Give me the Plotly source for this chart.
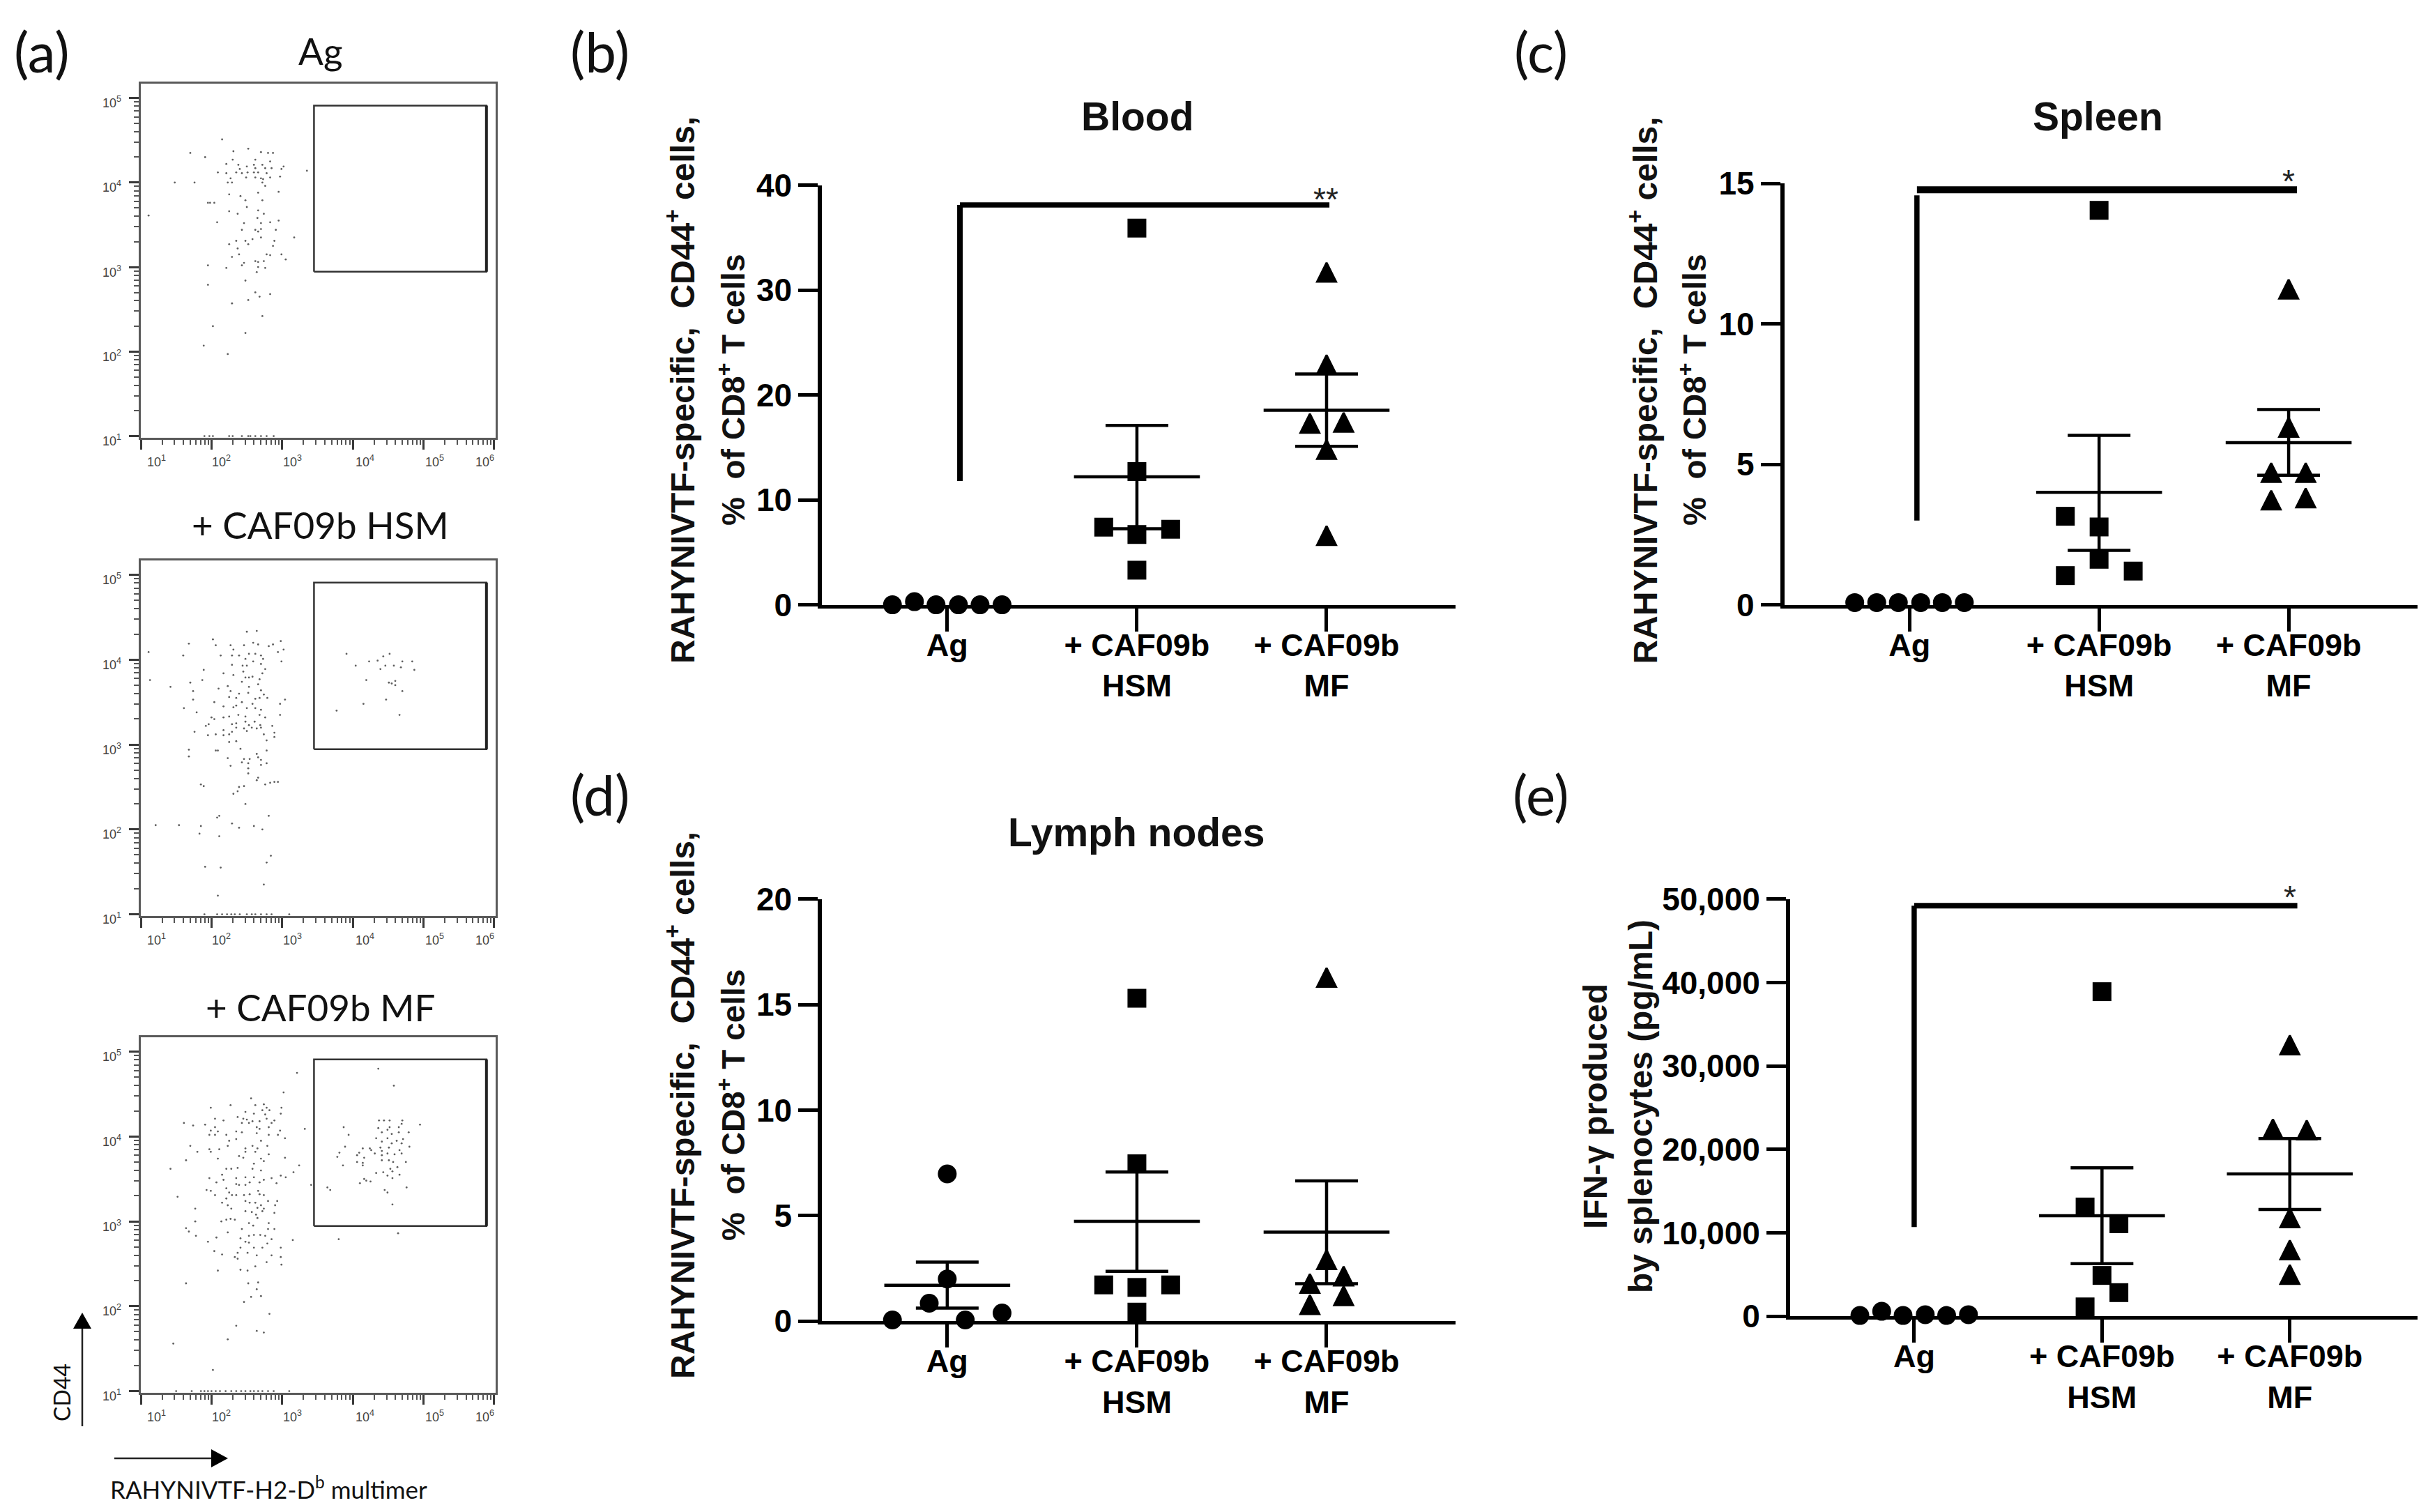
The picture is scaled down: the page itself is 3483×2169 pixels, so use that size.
import plotly.graph_objects as go

W, H = 3483, 2169

# ---------- (a) flow cytometry events: (log10 multimer, log10 CD44) ----------
ag_events = [(2.15,4.51),(1.70,4.35),(1.91,4.30),(2.31,4.37),(2.52,4.40),(2.70,4.36),(2.80,4.35),(2.87,4.35),(2.30,4.27),(2.62,4.27),(2.83,4.25),(2.21,4.22),(2.38,4.21),(2.50,4.19),(2.60,4.21),(2.72,4.21),(3.02,4.19),(2.99,4.16),(2.76,4.17),(2.85,4.17),(2.40,4.16),(2.62,4.17),(2.09,4.12),(2.21,4.11),(2.35,4.12),(2.43,4.11),(2.51,4.12),(2.60,4.12),(2.66,4.12),(2.78,4.11),(3.35,4.14),(2.27,4.05),(2.49,4.06),(2.62,4.06),(2.70,4.05),(2.73,4.04),(2.83,4.06),(2.97,4.07),(1.48,4.00),(1.76,4.00),(2.23,4.00),(2.29,4.00),(2.72,4.00),(2.76,3.96),(2.95,3.89),(2.25,3.86),(2.41,3.84),(2.66,3.88),(2.48,3.79),(2.72,3.79),(1.95,3.76),(1.98,3.76),(2.04,3.76),(2.50,3.71),(2.25,3.66),(2.66,3.67),(2.37,3.63),(2.74,3.63),(1.11,3.61),(2.65,3.58),(2.08,3.53),(2.46,3.52),(2.70,3.52),(2.83,3.53),(2.95,3.55),(2.43,3.44),(2.62,3.44),(2.70,3.45),(2.91,3.44),(2.66,3.42),(3.17,3.35),(2.58,3.33),(2.70,3.35),(2.35,3.31),(2.48,3.31),(2.89,3.31),(2.25,3.27),(2.52,3.27),(2.87,3.25),(2.37,3.22),(2.39,3.15),(2.78,3.15),(2.83,3.14),(2.99,3.15),(2.29,3.12),(3.05,3.09),(1.95,3.02),(2.21,2.99),(2.43,3.02),(2.46,3.05),(2.62,3.07),(2.66,3.06),(2.74,3.07),(2.66,3.00),(2.76,2.99),(2.64,2.94),(2.48,2.84),(1.95,2.79),(2.62,2.70),(2.83,2.68),(2.68,2.65),(2.52,2.61),(2.29,2.57),(2.72,2.42),(2.02,2.30),(2.48,2.22),(1.89,2.07),(2.23,1.97),(1.90,1.0),(1.97,1.0),(2.02,1.0),(2.25,1.0),(2.30,1.0),(2.43,1.0),(2.52,1.0),(2.55,1.0),(2.62,1.0),(2.70,1.0),(2.78,1.0),(2.88,1.0)]

hsm_events = [(2.50,4.33),(2.64,4.34),(2.02,4.24),(2.59,4.20),(2.06,4.17),(1.68,4.19),(2.27,4.17),(2.46,4.17),(2.66,4.18),(2.87,4.18),(2.98,4.22),(2.81,4.16),(2.31,4.12),(3.02,4.12),(2.94,4.09),(1.11,4.09),(1.60,4.05),(2.13,4.05),(2.29,4.05),(2.39,4.05),(2.53,4.07),(2.62,4.07),(2.70,4.05),(2.48,4.01),(2.73,4.01),(2.59,3.98),(2.99,3.98),(2.70,3.95),(2.29,3.94),(2.44,3.93),(2.50,3.93),(1.89,3.88),(2.76,3.89),(2.45,3.86),(2.17,3.84),(2.31,3.82),(2.72,3.84),(2.53,3.79),(2.58,3.80),(2.48,3.79),(2.68,3.77),(2.43,3.74),(1.87,3.76),(1.70,3.73),(1.13,3.76),(2.23,3.69),(2.66,3.71),(1.42,3.68),(2.10,3.66),(2.53,3.68),(1.74,3.63),(2.27,3.63),(2.70,3.64),(2.39,3.60),(2.52,3.61),(2.74,3.59),(2.25,3.56),(2.35,3.55),(2.79,3.55),(1.74,3.53),(2.62,3.54),(2.68,3.55),(3.04,3.53),(2.04,3.50),(2.43,3.50),(2.97,3.48),(2.58,3.48),(2.17,3.45),(2.35,3.46),(2.31,3.44),(1.61,3.43),(2.50,3.43),(2.62,3.43),(2.70,3.41),(1.79,3.38),(2.68,3.35),(2.97,3.35),(2.38,3.35),(2.25,3.33),(2.48,3.33),(2.76,3.32),(2.00,3.32),(2.04,3.30),(2.17,3.32),(2.29,3.24),(2.35,3.25),(2.48,3.27),(2.53,3.23),(2.61,3.27),(2.69,3.23),(2.86,3.22),(1.92,3.22),(1.96,3.24),(2.35,3.20),(2.46,3.19),(2.57,3.20),(2.64,3.19),(2.70,3.20),(1.76,3.15),(2.17,3.17),(2.29,3.15),(2.50,3.16),(2.74,3.12),(2.06,3.12),(1.95,3.11),(2.17,3.11),(2.25,3.12),(2.89,3.14),(2.89,3.09),(2.25,3.03),(2.35,3.04),(2.78,3.05),(2.06,2.93),(2.09,2.93),(1.68,2.94),(2.41,2.95),(2.78,2.93),(2.64,2.89),(1.68,2.86),(2.23,2.84),(2.46,2.83),(2.54,2.83),(2.66,2.85),(2.70,2.82),(2.43,2.79),(2.52,2.78),(2.78,2.78),(2.70,2.76),(2.27,2.75),(2.52,2.72),(2.52,2.66),(2.66,2.61),(2.64,2.58),(1.85,2.53),(1.89,2.51),(2.76,2.53),(2.83,2.55),(2.89,2.56),(2.94,2.56),(2.39,2.50),(2.46,2.51),(2.37,2.45),(2.31,2.42),(2.48,2.30),(2.81,2.16),(2.08,2.14),(2.11,2.16),(1.21,2.05),(1.54,2.05),(1.85,2.04),(2.29,2.07),(2.39,2.02),(2.60,2.04),(2.72,2.00),(1.83,1.95),(2.11,1.92),(2.84,1.69),(2.78,1.61),(1.91,1.56),(2.13,1.55),(2.74,1.35),(2.09,1.22),(3.91,4.07),(4.52,4.07),(4.43,4.04),(4.35,3.99),(4.23,3.98),(4.70,3.98),(4.84,3.98),(4.04,3.93),(4.46,3.93),(4.58,3.93),(4.68,3.91),(4.39,3.89),(4.87,3.88),(4.19,3.76),(4.51,3.73),(4.55,3.72),(4.60,3.75),(4.60,3.70),(4.70,3.63),(4.47,3.53),(4.15,3.48),(3.77,3.40),(4.66,3.35),(1.90,1.0),(2.08,1.0),(2.15,1.0),(2.22,1.0),(2.28,1.0),(2.33,1.0),(2.40,1.0),(2.50,1.0),(2.57,1.0),(2.62,1.0),(2.70,1.0),(2.78,1.0),(2.85,1.0),(3.10,1.0)]

mf_events = [(3.21,4.75),(4.36,4.80),(4.58,4.60),(3.02,4.52),(2.56,4.45),(2.27,4.37),(1.99,4.34),(2.62,4.37),(2.74,4.38),(2.99,4.34),(2.78,4.34),(2.72,4.31),(2.82,4.31),(2.48,4.29),(2.60,4.27),(2.98,4.27),(2.76,4.26),(2.37,4.23),(2.05,4.21),(2.17,4.19),(2.45,4.21),(2.50,4.20),(2.58,4.18),(2.68,4.18),(2.78,4.21),(2.89,4.19),(1.61,4.16),(1.91,4.14),(2.43,4.16),(2.53,4.16),(2.85,4.16),(1.74,4.13),(2.05,4.11),(2.64,4.11),(2.68,4.09),(2.81,4.11),(3.32,4.09),(1.99,4.07),(2.09,4.06),(2.35,4.06),(2.43,4.05),(2.97,4.07),(1.97,4.02),(2.05,4.02),(2.21,4.02),(2.64,4.04),(2.81,4.02),(2.94,4.02),(3.04,3.98),(2.35,3.97),(2.25,3.95),(2.70,3.95),(1.70,3.89),(2.23,3.89),(2.48,3.86),(2.58,3.89),(2.65,3.86),(2.79,3.89),(1.97,3.85),(2.11,3.85),(1.80,3.82),(2.48,3.82),(2.62,3.82),(1.99,3.82),(2.81,3.79),(2.39,3.77),(2.45,3.75),(2.70,3.74),(2.09,3.74),(1.64,3.72),(3.04,3.75),(2.74,3.71),(2.60,3.68),(3.24,3.66),(1.42,3.62),(2.37,3.63),(2.21,3.62),(2.28,3.62),(2.70,3.60),(2.58,3.62),(3.16,3.58),(2.15,3.55),(2.60,3.52),(2.48,3.52),(2.85,3.51),(2.98,3.54),(3.05,3.52),(1.97,3.51),(2.17,3.49),(2.35,3.51),(2.74,3.49),(2.07,3.46),(2.54,3.46),(2.92,3.45),(2.68,3.46),(2.35,3.44),(2.48,3.43),(2.39,3.43),(3.41,3.43),(2.21,3.39),(1.93,3.37),(1.99,3.36),(2.66,3.36),(2.25,3.34),(3.64,3.40),(3.68,3.37),(2.05,3.31),(2.29,3.31),(2.35,3.31),(2.46,3.31),(2.54,3.32),(2.68,3.32),(2.74,3.31),(1.52,3.29),(2.21,3.27),(2.48,3.24),(2.15,3.22),(2.54,3.22),(2.62,3.22),(2.93,3.24),(2.80,3.24),(2.23,3.19),(2.70,3.19),(2.90,3.19),(1.77,3.15),(2.28,3.15),(2.65,3.16),(2.74,3.15),(2.48,3.12),(2.57,3.11),(2.72,3.12),(2.89,3.10),(2.63,3.08),(2.65,3.04),(2.21,3.02),(2.27,3.03),(2.33,3.02),(1.77,3.00),(2.14,3.00),(2.81,2.98),(2.53,2.98),(2.59,2.95),(1.64,2.92),(2.43,2.91),(2.80,2.91),(2.89,2.91),(1.68,2.88),(2.23,2.87),(1.78,2.83),(2.07,2.81),(2.53,2.83),(2.60,2.84),(2.69,2.84),(2.76,2.83),(2.41,2.80),(2.85,2.79),(2.48,2.76),(2.53,2.75),(1.95,2.76),(3.15,2.78),(3.80,2.79),(4.64,2.86),(2.79,2.74),(2.41,2.69),(2.60,2.69),(2.72,2.69),(2.98,2.69),(2.04,2.65),(2.37,2.63),(2.15,2.61),(2.51,2.63),(2.33,2.58),(2.64,2.60),(2.85,2.60),(2.98,2.58),(2.37,2.56),(2.78,2.52),(2.99,2.49),(2.62,2.47),(2.41,2.43),(2.51,2.42),(2.09,2.42),(1.64,2.27),(2.52,2.27),(2.66,2.28),(2.64,2.20),(2.70,2.12),(2.56,2.11),(2.46,2.05),(2.82,1.91),(2.35,1.77),(2.64,1.71),(2.74,1.69),(2.23,1.61),(1.46,1.56),(2.02,1.25),(4.70,4.19),(4.37,4.19),(4.44,4.19),(4.52,4.19),(4.95,4.14),(4.69,4.15),(3.87,4.11),(4.36,4.10),(4.49,4.08),(4.52,4.11),(4.65,4.11),(4.41,4.05),(4.79,4.05),(4.55,4.03),(4.65,4.05),(3.94,4.02),(4.33,3.98),(4.49,3.98),(4.71,3.97),(4.41,3.94),(4.62,3.95),(4.69,3.92),(4.55,3.92),(3.89,3.88),(4.14,3.86),(4.24,3.86),(4.39,3.87),(4.51,3.87),(4.80,3.88),(4.26,3.84),(4.41,3.83),(4.66,3.84),(4.09,3.81),(4.31,3.80),(4.49,3.80),(4.59,3.79),(3.81,3.81),(4.06,3.78),(4.41,3.78),(4.69,3.80),(3.78,3.76),(4.16,3.75),(4.41,3.72),(4.51,3.72),(4.06,3.70),(4.14,3.69),(4.57,3.70),(4.75,3.70),(3.86,3.66),(4.14,3.66),(4.53,3.62),(4.63,3.64),(4.56,3.59),(4.33,3.57),(4.43,3.58),(4.66,3.55),(4.49,3.54),(4.56,3.51),(4.16,3.50),(4.19,3.48),(4.25,3.47),(4.10,3.45),(4.76,3.40),(4.45,3.37),(4.49,3.34),(4.56,3.20),(1.50,1.0),(1.72,1.0),(1.85,1.0),(1.90,1.0),(1.95,1.0),(2.00,1.0),(2.06,1.0),(2.12,1.0),(2.20,1.0),(2.28,1.0),(2.35,1.0),(2.42,1.0),(2.48,1.0),(2.55,1.0),(2.60,1.0),(2.66,1.0),(2.72,1.0),(2.80,1.0),(2.88,1.0),(3.10,1.0)]

gate_multimer_log = [3.45, 5.89]
gate_cd44_log = [2.945, 4.91]
facs_titles = ["Ag", "+ CAF09b HSM", "+ CAF09b MF"]
facs_decades_x = [1, 2, 3, 4, 5, 6]
facs_decades_y = [1, 2, 3, 4, 5]
facs_label_x_shift = [22, 14, 15, 17, 16, -13]

# ---------- (b)-(e) dot plots ----------
categories = ["Ag", "+ CAF09b<br>HSM", "+ CAF09b<br>MF"]
six_offsets = [-0.289, -0.173, -0.059, 0.059, 0.173, 0.289]

blood_ag = [0.0, 0.3, 0.0, 0.0, 0.0, 0.0]
blood_hsm = [35.9, 12.7, 7.4, 7.2, 6.7, 3.3]
blood_hsm_off = [0, 0, -0.175, 0.178, 0, 0]
blood_mf = [31.6, 22.8, 17.2, 17.3, 14.7, 6.5]
blood_mf_off = [0, 0, -0.088, 0.09, 0, 0]
blood_mean = [None, 12.2, 18.55]
blood_upper = [None, 17.1, 22.0]
blood_lower = [None, 7.25, 15.1]
blood_ticks = [0, 10, 20, 30, 40]

spleen_ag = [0.08, 0.08, 0.08, 0.08, 0.08, 0.08]
spleen_hsm = [14.04, 3.15, 2.77, 1.62, 1.2, 1.04]
spleen_hsm_off = [0, -0.178, 0, 0, 0.18, -0.178]
spleen_mf = [11.2, 6.28, 4.67, 4.67, 3.69, 3.77]
spleen_mf_off = [0, 0, -0.092, 0.09, -0.092, 0.09]
spleen_mean = [None, 4.0, 5.77]
spleen_upper = [None, 6.03, 6.95]
spleen_lower = [None, 1.94, 4.61]
spleen_ticks = [0, 5, 10, 15]

lymph_ag = [0.06, 6.98, 2.0, 0.85, 0.06, 0.39]
lymph_ag_off = [-0.289, 0, 0, -0.095, 0.095, 0.289]
lymph_hsm = [15.3, 7.46, 1.72, 1.6, 1.72, 0.43]
lymph_hsm_off = [0, 0, -0.175, 0, 0.178, 0]
lymph_mf = [16.24, 2.87, 2.09, 1.74, 1.16, 0.74]
lymph_mf_off = [0, 0, 0.09, -0.088, 0.09, -0.088]
lymph_mean = [1.7, 4.73, 4.22]
lymph_upper = [2.8, 7.07, 6.65]
lymph_lower = [0.62, 2.36, 1.78]
lymph_ticks = [0, 5, 10, 15, 20]

ifn_ag = [100, 600, 100, 200, 100, 200]
ifn_hsm = [38900, 13100, 11100, 4900, 2840, 1130]
ifn_hsm_off = [0, -0.09, 0.09, 0, 0.09, -0.09]
ifn_mf = [32400, 22350, 22200, 11670, 7840, 4900]
ifn_mf_off = [0, -0.09, 0.09, 0, 0, 0]
ifn_mean = [None, 12060, 17060]
ifn_upper = [None, 17800, 21300]
ifn_lower = [None, 6320, 12800]
ifn_ticks = [0, 10000, 20000, 30000, 40000, 50000]
ifn_ticktext = ["0", "10,000", "20,000", "30,000", "40,000", "50,000"]

# significance brackets: vertical x, vertical low, corner y, horizontal end x
blood_bracket = dict(xv=1.067, lo=11.8, hi=38.1, yh=38.1, xe=3.015, star="**", sx=2.995, sy=39.1, wv=8, wh=7.5)
spleen_bracket = dict(xv=1.039, lo=3.0, hi=14.57, yh=14.77, xe=3.044, star="*", sx=3.0, sy=15.25, wv=7.5, wh=10)
ifn_bracket = dict(xv=1.0, lo=10700, hi=49200, yh=49200, xe=3.04, star="*", sx=3.0, sy=50800, wv=7.5, wh=8)

SANS = "Liberation Sans"
HUMAN = "Lato"
BLACK = "#000000"
TRIANGLE_LIFT = 15

fig = go.Figure()
layout = {}
ann = []
shapes = []


def dx(a, b):
    return [a / W, b / W]


def dy(top, bottom):
    return [1 - bottom / H, 1 - top / H]


def text(px, py, s, size, family=SANS, bold=False, angle=0, color="#111111"):
    ann.append(dict(xref="paper", yref="paper", x=px / W, y=1 - py / H, text=f"<b>{s}</b>" if bold else s,
                    showarrow=False, xanchor="center", yanchor="middle", textangle=angle,
                    font=dict(family=family, size=size, color=color)))


def refs(idx):
    suffix = "" if idx == 1 else str(idx)
    return f"xaxis{suffix}", f"yaxis{suffix}", f"x{suffix}", f"y{suffix}"


# -- FACS panels --
minor_x = [m * 10 ** d for d in range(1, 6) for m in range(2, 10)]
minor_y = [m * 10 ** d for d in range(1, 5) for m in range(2, 10)]


def facs(idx, events, top, bottom, title, title_y):
    xn, yn, xr, yr = refs(idx)
    common = dict(type="log", showgrid=False, zeroline=False, showline=True, mirror=True, linecolor="#5a5a5a",
                  linewidth=2.5, ticks="outside", ticklen=14, tickwidth=3, tickcolor="#3a3a3a", showticklabels=False)
    layout[xn] = dict(domain=dx(202, 711), range=[1, 6.02], anchor=yr,
                      tickvals=[10 ** d for d in facs_decades_x],
                      minor=dict(tickvals=minor_x, ticks="outside", ticklen=7, tickwidth=1.5, tickcolor="#555555"),
                      **common)
    layout[yn] = dict(domain=dy(top, bottom), range=[0.98, 5.17], anchor=xr,
                      tickvals=[10 ** d for d in facs_decades_y],
                      minor=dict(tickvals=minor_y, ticks="outside", ticklen=7, tickwidth=1.5, tickcolor="#555555"),
                      **common)
    xs = [10 ** e[0] for e in events]
    ys = [10 ** e[1] for e in events]
    fig.add_trace(go.Scatter(x=xs, y=ys, mode="markers", xaxis=xr, yaxis=yr, showlegend=False, cliponaxis=False,
                             marker=dict(size=2.8, color="#5e5e5e")))
    gx = [10 ** gate_multimer_log[i] for i in (0, 1, 1, 0, 0)]
    gy = [10 ** gate_cd44_log[i] for i in (0, 0, 1, 1, 0)]
    fig.add_trace(go.Scatter(x=gx, y=gy, mode="lines", xaxis=xr, yaxis=yr, showlegend=False,
                             line=dict(color="#333333", width=2.5)))
    fig.add_trace(go.Scatter(x=gx[1:3], y=gy[1:3], mode="lines", xaxis=xr, yaxis=yr, showlegend=False,
                             line=dict(color="#222222", width=4)))
    for d, sh in zip(facs_decades_x, facs_label_x_shift):
        ann.append(dict(xref=xr, yref=f"{yr} domain", x=d, y=0, text=f"10<sup>{d}</sup>", showarrow=False,
                        xshift=sh, yshift=-33, xanchor="center", yanchor="middle",
                        font=dict(family=SANS, size=18, color="#444444")))
    for d in facs_decades_y:
        ann.append(dict(xref=f"{xr} domain", yref=yr, x=0, y=d, text=f"10<sup>{d}</sup>", showarrow=False,
                        xshift=-26, yshift=-6, xanchor="right", yanchor="middle",
                        font=dict(family=SANS, size=18, color="#444444")))
    text(460, title_y, title, 53, family=HUMAN)


facs(1, ag_events, 120, 628, facs_titles[0], 73)
facs(2, hsm_events, 804, 1314, facs_titles[1], 752)
facs(3, mf_events, 1488, 1998, facs_titles[2], 1444)

# -- CD44 / multimer arrows --
shapes.append(dict(type="line", xref="paper", yref="paper", x0=118 / W, x1=118 / W, y0=1 - 2046 / H, y1=1 - 1905 / H,
                   line=dict(color="#222222", width=2.5)))
shapes.append(dict(type="path", xref="paper", yref="paper", fillcolor="#000000", line=dict(width=0),
                   path=f"M {105 / W} {1 - 1906 / H} L {131 / W} {1 - 1906 / H} L {118 / W} {1 - 1883 / H} Z"))
shapes.append(dict(type="line", xref="paper", yref="paper", x0=164 / W, x1=305 / W, y0=1 - 2092 / H, y1=1 - 2092 / H,
                   line=dict(color="#222222", width=2.5)))
shapes.append(dict(type="path", xref="paper", yref="paper", fillcolor="#000000", line=dict(width=0),
                   path=f"M {303 / W} {1 - 2079 / H} L {303 / W} {1 - 2105 / H} L {327 / W} {1 - 2092 / H} Z"))
text(89, 1998, "CD44", 32, family=HUMAN, angle=-90)
text(385, 2134, "RAHYNIVTF-H2-D<sup>b</sup> multimer", 35, family=HUMAN)


# -- dot plots --
def dot_panel(idx, x0, x1, top, bottom, ymax, ticks, ticktext, groups, mean, upper, lower, bracket):
    xn, yn, xr, yr = refs(idx)
    # arrow-up markers hang below their tip; a hidden twin axis lifts them so the body centres on the value
    tn, tr = f"yaxis{idx + 4}", f"y{idx + 4}"
    layout[tn] = dict(domain=dy(top - TRIANGLE_LIFT, bottom - TRIANGLE_LIFT), range=[0, ymax], anchor=xr, visible=False)
    layout[xn] = dict(domain=dx(x0, x1), range=[0.339, 3.68], anchor=yr, showgrid=False, zeroline=False,
                      showline=True, linecolor=BLACK, linewidth=5, ticks="outside", ticklen=33, tickwidth=4.5,
                      tickcolor=BLACK, tickvals=[1, 2, 3], ticktext=categories, ticklabelstandoff=-19,
                      tickfont=dict(family=SANS, size=45, color=BLACK, weight="bold"))
    layout[yn] = dict(domain=dy(top, bottom), range=[0, ymax], anchor=xr, showgrid=False, zeroline=False,
                      showline=True, linecolor=BLACK, linewidth=5.5, ticks="outside", ticklen=28, tickwidth=4.5,
                      tickcolor=BLACK, tickvals=ticks, ticktext=ticktext,
                      tickfont=dict(family=SANS, size=46, color=BLACK, weight="bold"))
    for g, (vals, offs, sym) in enumerate(groups):
        mk = dict(color=BLACK)
        axis = yr
        if sym == "circle":
            mk.update(symbol="circle", size=27)
        elif sym == "square":
            mk.update(symbol="square", size=27)
        else:
            axis = tr
            mk.update(symbol="arrow-up", size=27, line=dict(color=BLACK, width=3))
        fig.add_trace(go.Scatter(x=[g + 1 + o for o in offs], y=vals, mode="markers", xaxis=xr, yaxis=axis,
                                 showlegend=False, cliponaxis=False, marker=mk))
        if mean[g] is not None:
            fig.add_trace(go.Scatter(x=[g + 1], y=[mean[g]], mode="markers", xaxis=xr, yaxis=yr, showlegend=False,
                                     cliponaxis=False,
                                     marker=dict(symbol="line-ew", size=129, color=BLACK,
                                                 line=dict(color=BLACK, width=4.5)),
                                     error_y=dict(type="data", symmetric=False, array=[upper[g] - mean[g]],
                                                  arrayminus=[mean[g] - lower[g]], thickness=4.5, width=45,
                                                  color=BLACK)))
    if bracket:
        b = bracket
        fig.add_trace(go.Scatter(x=[b["xv"], b["xv"]], y=[b["lo"], b["hi"]], mode="lines", xaxis=xr, yaxis=yr,
                                 showlegend=False, line=dict(color=BLACK, width=b["wv"])))
        fig.add_trace(go.Scatter(x=[b["xv"], b["xe"]], y=[b["yh"], b["yh"]], mode="lines", xaxis=xr, yaxis=yr,
                                 showlegend=False, cliponaxis=False, line=dict(color=BLACK, width=b["wh"])))
        ann.append(dict(xref=xr, yref=f"{yr} domain", x=b["sx"], y=b["sy"] / ymax, text=b["star"], showarrow=False,
                        yshift=-7, xanchor="center", yanchor="middle",
                        font=dict(family=SANS, size=46, color="#222222")))


dot_panel(4, 1179, 2088, 265.5, 867.6, 40, blood_ticks, [str(t) for t in blood_ticks],
          [(blood_ag, six_offsets, "circle"), (blood_hsm, blood_hsm_off, "square"), (blood_mf, blood_mf_off, "tri")],
          blood_mean, blood_upper, blood_lower, blood_bracket)
dot_panel(5, 2559.5, 3468, 263, 867.6, 15, spleen_ticks, [str(t) for t in spleen_ticks],
          [(spleen_ag, six_offsets, "circle"), (spleen_hsm, spleen_hsm_off, "square"), (spleen_mf, spleen_mf_off, "tri")],
          spleen_mean, spleen_upper, spleen_lower, spleen_bracket)
dot_panel(6, 1179, 2088, 1289.7, 1895.3, 20, lymph_ticks, [str(t) for t in lymph_ticks],
          [(lymph_ag, lymph_ag_off, "circle"), (lymph_hsm, lymph_hsm_off, "square"), (lymph_mf, lymph_mf_off, "tri")],
          lymph_mean, lymph_upper, lymph_lower, None)
dot_panel(7, 2567.8, 3468, 1289.7, 1888.3, 50000, ifn_ticks, ifn_ticktext,
          [(ifn_ag, six_offsets, "circle"), (ifn_hsm, ifn_hsm_off, "square"), (ifn_mf, ifn_mf_off, "tri")],
          ifn_mean, ifn_upper, ifn_lower, ifn_bracket)

# -- titles, letters, axis labels --
text(1631, 167.5, "Blood", 57, bold=True)
text(3009, 167.5, "Spleen", 57, bold=True)
text(1630, 1194, "Lymph nodes", 57, bold=True)
for s, px, py in [("(a)", 60, 73), ("(b)", 860, 73), ("(c)", 2210, 73), ("(d)", 860, 1139), ("(e)", 2210, 1139)]:
    text(px, py, s, 80, family=HUMAN)

L1 = "RAHYNIVTF-specific,  CD44<sup>+</sup> cells,"
L2 = "%  of CD8<sup>+</sup> T cells"
for px1, px2, py in [(976, 1049, 560), (2356.6, 2428, 560), (976, 1049, 1586)]:
    text(px1, py, L1, 48, bold=True, angle=-90)
    text(px2, py, L2, 46, bold=True, angle=-90)
text(2288, 1587, "IFN-γ produced", 48, bold=True, angle=-90)
text(2353, 1587, "by splenocytes (pg/mL)", 48, bold=True, angle=-90)

layout.update(width=W, height=H, margin=dict(l=0, r=0, t=0, b=0, autoexpand=False), paper_bgcolor="white",
              plot_bgcolor="rgba(0,0,0,0)", showlegend=False, annotations=ann, shapes=shapes)
fig.update_layout(**layout)
fig.write_html("out.html", config={"displayModeBar": False},
               post_script="document.body.style.margin='0';document.documentElement.style.overflow='hidden';")
